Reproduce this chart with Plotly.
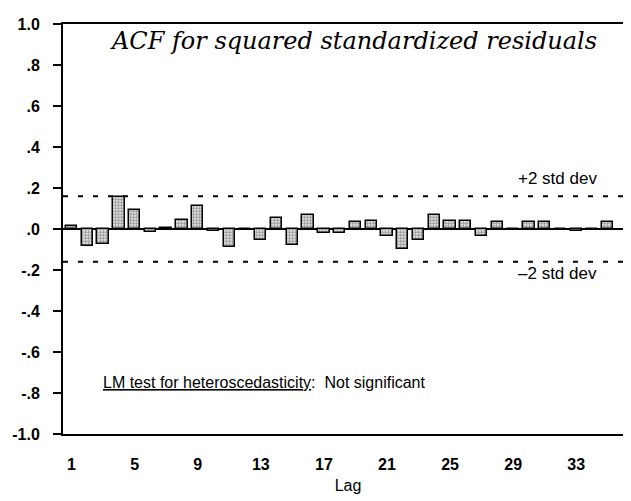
import plotly.graph_objects as go

# ACF of squared standardized residuals, lags 1..35
lags = list(range(1, 36))
acf = [0.013, -0.083, -0.071, 0.156, 0.094, -0.015, 0.003, 0.044, 0.114, -0.010,
       -0.088, 0.002, -0.052, 0.055, -0.079, 0.068, -0.021, -0.018, 0.035, 0.040,
       -0.035, -0.097, -0.055, 0.068, 0.040, 0.037, -0.032, 0.032, 0.002, 0.036,
       0.032, 0.002, -0.010, 0.002, 0.032]
band = 0.16                       # +/- 2 std dev
x_ticks = [1, 5, 9, 13, 17, 21, 25, 29, 33]
y_ticks = [-1.0, -0.8, -0.6, -0.4, -0.2, 0.0, 0.2, 0.4, 0.6, 0.8, 1.0]
y_labels = ['-1.0', '-.8', '-.6', '-.4', '-.2', '.0', '.2', '.4', '.6', '.8', '1.0']

sans = 'Liberation Sans, Arial, sans-serif'

fig = go.Figure(go.Bar(
    x=lags, y=acf, width=0.72,
    marker=dict(color='white',
                line=dict(color='black', width=1.5),
                pattern=dict(shape='.', size=3, solidity=0.7,
                             fgcolor='#444444', bgcolor='white')),
    showlegend=False
))

# significance bands
for yv in (band, -band):
    fig.add_hline(y=yv, line=dict(color='black', width=2, dash='5px,10px'))

fig.add_annotation(text='ACF for squared standardized residuals',
                   xref='paper', yref='y', x=0.51, y=0.915, showarrow=False,
                   font=dict(family='DejaVu Serif, serif', size=24, style='italic',
                             color='black'))
fig.add_annotation(text='+2 std dev', x=31.8, y=0.245, showarrow=False,
                   font=dict(family=sans, size=17, color='black'))
fig.add_annotation(text='\u20132 std dev', x=31.8, y=-0.215, showarrow=False,
                   font=dict(family=sans, size=17, color='black'))
fig.add_annotation(text='<u>LM test for heteroscedasticity</u>:  Not significant',
                   x=2.9, y=-0.75, xanchor='left', showarrow=False,
                   font=dict(family=sans, size=16, color='black'))

fig.update_layout(
    width=631, height=501,
    margin=dict(l=54, r=4, t=16, b=75),
    paper_bgcolor='white', plot_bgcolor='white',
    font=dict(family=sans, color='black'),
    bargap=0,
    xaxis=dict(range=[0.46, 36.6], tickvals=x_ticks, showgrid=False,
               zeroline=False, showline=True, linecolor='black', linewidth=1.5,
               mirror=True, ticks='outside', ticklen=15,
               tickcolor='rgba(0,0,0,0)',
               tickfont=dict(size=16, weight='bold'),
               title=dict(text='Lag', font=dict(size=16), standoff=8)),
    yaxis=dict(range=[-1, 1], tickvals=y_ticks, ticktext=y_labels,
               showgrid=False, zeroline=True, zerolinecolor='black',
               zerolinewidth=1.5, showline=True, linecolor='black',
               linewidth=2, mirror=True, ticks='outside', ticklen=8,
               tickwidth=1.5, tickcolor='black', ticklabelstandoff=10,
               tickfont=dict(size=16, weight='bold')),
)

fig.write_html("out.html")
